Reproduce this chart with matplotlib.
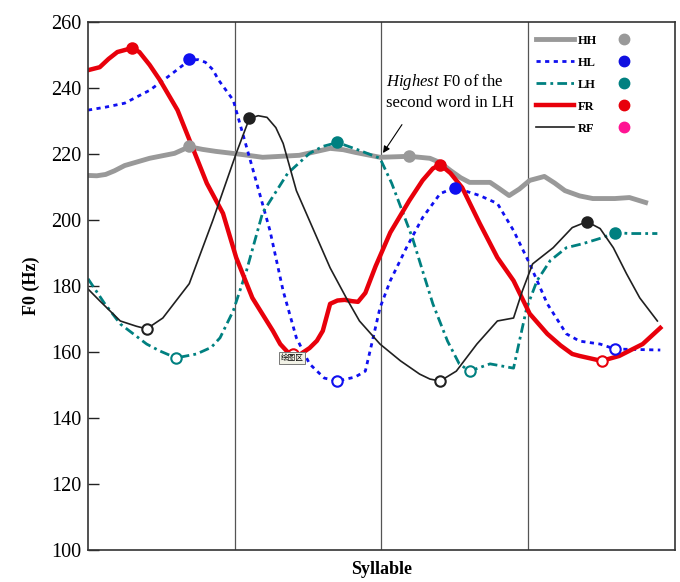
import numpy as np
import matplotlib
matplotlib.use('Agg')
import matplotlib.pyplot as plt
from matplotlib.lines import Line2D

plt.rcParams['font.family'] = ['Liberation Serif', 'DejaVu Serif']
plt.rcParams['mathtext.fontset'] = 'custom'
plt.rcParams['mathtext.rm'] = 'Liberation Serif'
plt.rcParams['mathtext.it'] = 'Liberation Serif:italic'

# F0 contours (x = syllable position, y = Hz)
hh_x = [0.00, 0.06, 0.12, 0.18, 0.25, 0.42, 0.59, 0.69, 0.78, 0.87, 1.04, 1.19, 1.44, 1.56, 1.65, 1.74, 1.82, 1.99, 2.19,
        2.33, 2.40, 2.47, 2.54, 2.60, 2.74, 2.80, 2.87, 2.94, 3.01, 3.11, 3.18, 3.25, 3.35, 3.44, 3.59, 3.69, 3.80]
hh_y = [213.5, 213.4, 213.8, 214.9, 216.5, 218.7, 220.2, 222.2, 221.4, 220.8, 219.9, 219.0, 219.6, 220.8, 221.7, 221.3, 220.5, 219.0, 219.3,
        218.7, 217.4, 215.0, 212.8, 211.4, 211.4, 209.6, 207.4, 209.4, 212.0, 213.2, 211.2, 208.9, 207.3, 206.5, 206.5, 206.8, 205.3]

hl_x = [0.00, 0.12, 0.25, 0.42, 0.56, 0.69, 0.75, 0.80, 0.85, 0.89, 0.99, 1.12, 1.24, 1.33, 1.42, 1.51, 1.61, 1.70,
        1.82, 1.89, 1.93, 1.99, 2.06, 2.17, 2.28, 2.40, 2.50, 2.67, 2.79, 2.90, 3.01, 3.13, 3.26, 3.35,
        3.49, 3.59, 3.90]
hl_y = [233.3, 234.2, 235.4, 239.3, 243.9, 248.4, 248.6, 247.8, 245.6, 242.4, 236.3, 215.9, 196.8, 178.5, 164.3, 156.4, 152.1, 151.2,
        152.4, 154.2, 161.8, 173.4, 181.6, 191.6, 200.7, 208.0, 209.8, 207.4, 205.0, 196.8, 186.7, 174.6, 165.5, 163.3,
        162.4, 160.9, 160.6]

lh_x = [0.00, 0.11, 0.22, 0.40, 0.49, 0.60, 0.74, 0.84, 0.90, 0.99, 1.08, 1.19, 1.36, 1.51, 1.60, 1.70, 1.85, 1.99,
        2.07, 2.21, 2.28, 2.35, 2.45, 2.53, 2.60, 2.74, 2.90, 2.94, 2.99, 3.06, 3.15, 3.26, 3.37, 3.51,
        3.59, 3.69, 3.88]
lh_y = [182.2, 174.9, 168.5, 162.4, 160.3, 158.2, 159.4, 161.4, 164.3, 172.5, 184.6, 202.2, 214.1, 220.2, 222.3, 223.5, 221.1, 218.7,
        211.1, 194.7, 184.6, 174.6, 163.3, 156.4, 154.2, 156.4, 155.1, 163.3, 173.4, 181.6, 187.7, 191.6, 192.8, 194.7,
        196.2, 195.9, 195.9]

fr_x = [0.00, 0.08, 0.14, 0.20, 0.30, 0.35, 0.42, 0.49, 0.61, 0.72, 0.81, 0.92, 1.01, 1.12, 1.26, 1.31, 1.36, 1.40, 1.45, 1.51,
        1.56, 1.60, 1.65, 1.70, 1.75, 1.80, 1.84, 1.89, 1.96, 2.06, 2.19, 2.28, 2.35, 2.40, 2.47, 2.55, 2.67, 2.79, 2.90, 3.01, 3.13,
        3.22, 3.30, 3.35, 3.50, 3.62, 3.78, 3.90]
fr_y = [245.4, 246.3, 248.8, 250.9, 252.1, 250.9, 247.0, 242.4, 233.3, 221.1, 211.1, 202.0, 188.6, 176.4, 166.4, 162.4, 160.0, 159.0, 159.4, 161.2,
        163.4, 166.4, 174.6, 175.6, 175.8, 175.4, 175.2, 177.9, 186.0, 196.2, 205.9, 212.0, 215.6, 216.8, 214.2, 209.8, 198.9, 188.6, 181.6, 171.6, 165.5,
        162.0, 159.4, 158.8, 157.3, 158.8, 162.4, 167.3]

rf_x = [0.00, 0.08, 0.22, 0.33, 0.40, 0.51, 0.69, 0.85, 1.01, 1.10, 1.16, 1.22, 1.28, 1.33, 1.42, 1.53, 1.65, 1.76, 1.85,
        1.99, 2.13, 2.26, 2.33, 2.40, 2.51, 2.65, 2.79, 2.90, 2.96, 3.03, 3.17, 3.30, 3.40, 3.49, 3.58, 3.67,
        3.76, 3.88]
rf_y = [179.1, 175.5, 169.4, 167.8, 167.0, 170.3, 180.7, 199.8, 220.2, 230.8, 231.6, 231.1, 228.0, 223.2, 208.9, 197.7, 185.5, 176.4, 169.4,
        162.4, 157.3, 153.3, 151.8, 151.2, 154.2, 162.4, 169.4, 170.3, 178.5, 186.7, 191.6, 197.7, 199.5, 197.4, 191.6, 183.7,
        176.4, 169.4]

# turning-point markers: x, y, filled?
hh_mk = ([0.69, 2.19], [222.3, 219.3], [True, True])
hl_mk = ([0.69, 1.70, 2.50, 3.59], [248.8, 151.2, 209.8, 160.9], [True, False, True, False])
lh_mk = ([0.60, 1.70, 2.60, 3.59], [158.2, 223.5, 154.2, 196.2], [False, True, False, True])
fr_mk = ([0.30, 1.40, 2.40, 3.50], [252.1, 159.4, 216.8, 157.3], [True, False, True, False])
rf_mk = ([0.40, 1.10, 2.40, 3.40], [167.0, 230.8, 151.2, 199.5], [False, True, False, True])

labels = ['HH', 'HL', 'LH', 'FR', 'RF']
colors = ['#999999', '#1010f0', '#008080', '#e8000b', '#202020']
legend_dot_colors = ['#999999', '#1010e0', '#008080', '#e8000b', '#ff1493']
styles = ['-', (0, (1.5, 1.6)), (0, (3.5, 1.5, 1, 1.5)), '-', '-']
widths = [3.5, 2.0, 2.0, 3.2, 1.2]

fig = plt.figure(figsize=(6.8, 5.82), dpi=100)
ax = fig.add_axes([0.1294, 0.055, 0.8632, 0.9072])

for xv in [1, 2, 3]:
    ax.axvline(xv, color='#555555', lw=0.9, zorder=1)

series = [(hh_x, hh_y), (hl_x, hl_y), (lh_x, lh_y), (fr_x, fr_y), (rf_x, rf_y)]
marks = [hh_mk, hl_mk, lh_mk, fr_mk, rf_mk]

handles = []
for (x, y), c, ls, lw, lab in zip(series, colors, styles, widths, labels):
    ln, = ax.plot(x, y, color=c, ls=ls, lw=lw, zorder=2, label=lab)
    handles.append(ln)

for (mx, my, mf), c in zip(marks, colors):
    for xx, yy, f in zip(mx, my, mf):
        ax.plot(xx, yy, 'o', ms=7.5, mec=c, mew=1.5,
                mfc=c if f else 'white', zorder=4)

# legend: lines in one column, dots in the other
dots = [Line2D([], [], ls='none', marker='o', ms=7.5, color=c) for c in legend_dot_colors]
leg = ax.legend(handles + dots, labels + [''] * 5, ncol=2, frameon=False,
                loc='upper left', bbox_to_anchor=(0.753, 0.988), borderpad=0,
                handlelength=3.0, handletextpad=0.3, columnspacing=0.7,
                labelspacing=0.8, prop={'family': 'Liberation Serif', 'weight': 'bold', 'size': 9})

ax.annotate('', xy=(2.0, 219.6), xytext=(2.15, 229.6),
            arrowprops=dict(arrowstyle='-|>', color='black', lw=0.8, mutation_scale=10))
ax.text(2.03, 244.8, r'$\mathit{Highest}$ F0 of the' + '\nsecond word in LH',
        ha='left', va='top', fontsize=12, linespacing=1.2)

ax.text(1.39, 158.3, '绘图区', family=['Noto Sans CJK SC', 'DejaVu Sans'], fontsize=5.5,
        ha='center', va='center', zorder=6,
        bbox=dict(boxstyle='square,pad=0.25', fc='#f2f2e6', ec='#777777', lw=0.7))

ax.set_xlim(0, 4)
ax.set_ylim(100, 260)
ax.set_yticks(np.arange(100, 261, 20))
ax.set_xticks([])
ax.tick_params(axis='y', direction='in', length=8, width=1, labelsize=14.5, pad=5, colors='#222222')
ax.tick_params(axis='y', labelcolor='black')
for sp in ax.spines.values():
    sp.set_color('#333333')
    sp.set_linewidth(1.2)

ax.set_ylabel('F0 (Hz)', fontsize=13, fontweight='bold', labelpad=8)
ax.set_xlabel('Syllable', fontsize=13, fontweight='bold', labelpad=8)

plt.savefig('out.png', dpi=100)
